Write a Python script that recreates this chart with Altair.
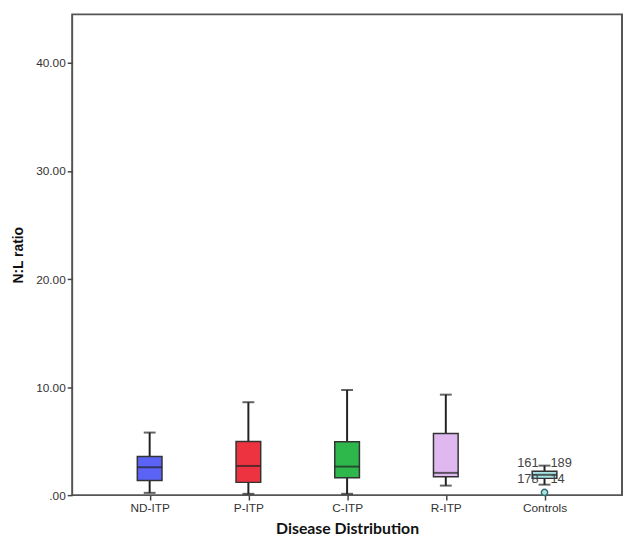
import altair as alt
import pandas as pd

categories = ["ND-ITP", "P-ITP", "C-ITP", "R-ITP", "Controls"]
lower_whisker = [0.21, 0.12, 0.12, 0.88, 0.97]
q1 = [1.36, 1.18, 1.61, 1.70, 1.55]
median = [2.58, 2.70, 2.64, 2.06, 1.88]
q3 = [3.58, 4.97, 4.94, 5.70, 2.21]
upper_whisker = [5.79, 8.60, 9.73, 9.30, 2.73]
box_colors = ["#5B63F6", "#EE3340", "#2EB84B", "#DFB8F0", "#A9E3E3"]

outlier_group = ["Controls"]
outlier_value = [0.25]

label_group = ["Controls", "Controls", "Controls", "Controls"]
label_value = [2.95, 2.95, 1.45, 1.45]
label_text = ["161", "189", "178", "14"]
label_side = ["left", "right", "left", "right"]

y_ticks = [0, 10, 20, 30, 40]

df = pd.DataFrame({
    "group": categories,
    "lo": lower_whisker,
    "q1": q1,
    "med": median,
    "q3": q3,
    "hi": upper_whisker,
})
out_df = pd.DataFrame({"group": outlier_group, "v": outlier_value})
lab_df = pd.DataFrame({"group": label_group, "v": label_value,
                       "t": label_text, "side": label_side})

W, H = 557, 487
YMAX = 44.5
NARROW = "Liberation Sans Narrow, Arial Narrow, Liberation Sans, sans-serif"

xscale = alt.Scale(type="point", domain=categories, padding=0.785)
yscale = alt.Scale(domain=[0, YMAX], nice=False)

x_enc = alt.X("group:N", scale=xscale, sort=categories,
              axis=alt.Axis(title="Disease Distribution", labelAngle=0,
                            domain=False, ticks=True, tickSize=5,
                            tickColor="#444", tickWidth=1.5,
                            labelFont=NARROW, labelFontSize=12,
                            labelColor="#333", labelPadding=3,
                            titleFont="Lato", titleFontSize=16,
                            titleFontWeight="bold", titleColor="#111",
                            titlePadding=7))
y_axis = alt.Axis(title="N:L ratio", values=y_ticks, grid=False,
                  domain=False, tickSize=5, tickColor="#444", tickWidth=1.5,
                  labelExpr="datum.value == 0 ? '.00' : format(datum.value, '.2f')",
                  labelFont=NARROW, labelFontSize=12,
                  labelColor="#333", labelPadding=2,
                  titleFont="Liberation Sans", titleFontSize=14,
                  titleFontWeight="bold", titleColor="#111", titlePadding=10)

base = alt.Chart(df)

whisker = base.mark_rule(color="#222", strokeWidth=2).encode(
    x=x_enc,
    y=alt.Y("lo:Q", scale=yscale, axis=y_axis),
    y2="hi:Q",
)
caps_hi = base.mark_tick(color="#222", size=12, thickness=2, orient="horizontal").encode(
    x=alt.X("group:N", scale=xscale, sort=categories),
    y=alt.Y("hi:Q", scale=yscale),
)
caps_lo = base.mark_tick(color="#222", size=12, thickness=2, orient="horizontal").encode(
    x=alt.X("group:N", scale=xscale, sort=categories),
    y=alt.Y("lo:Q", scale=yscale),
)
box = base.mark_bar(size=25, stroke="#333", strokeWidth=1.5).encode(
    x=alt.X("group:N", scale=xscale, sort=categories),
    y=alt.Y("q1:Q", scale=yscale),
    y2="q3:Q",
    fill=alt.Fill("group:N", scale=alt.Scale(domain=categories, range=box_colors),
                  legend=None),
)
med = base.mark_tick(color="#222", size=25, thickness=2, orient="horizontal").encode(
    x=alt.X("group:N", scale=xscale, sort=categories),
    y=alt.Y("med:Q", scale=yscale),
)
outl = alt.Chart(out_df).mark_point(shape="circle", filled=True, size=40,
                                    fill="#A9E3E3", stroke="#2F6F6F",
                                    strokeWidth=1.5, opacity=1).encode(
    x=alt.X("group:N", scale=xscale, sort=categories),
    y=alt.Y("v:Q", scale=yscale),
)
lab_left = alt.Chart(lab_df).transform_filter("datum.side == 'left'").mark_text(
    align="right", baseline="middle", dx=-6, font=NARROW,
    fontSize=13, color="#444").encode(
    x=alt.X("group:N", scale=xscale, sort=categories),
    y=alt.Y("v:Q", scale=yscale),
    text="t:N",
)
lab_right = alt.Chart(lab_df).transform_filter("datum.side == 'right'").mark_text(
    align="left", baseline="middle", dx=6, font=NARROW,
    fontSize=13, color="#444").encode(
    x=alt.X("group:N", scale=xscale, sort=categories),
    y=alt.Y("v:Q", scale=yscale),
    text="t:N",
)

chart = alt.layer(whisker, caps_hi, caps_lo, box, med, outl, lab_left, lab_right).properties(
    width=W, height=H,
    autosize=alt.AutoSizeParams(type="none"),
    padding={"left": 65, "top": 3, "right": 1, "bottom": 42},
    background="white",
).configure_view(stroke="#555", strokeWidth=2)

chart.save("out.html", embed_options={"renderer": "svg", "actions": False})
